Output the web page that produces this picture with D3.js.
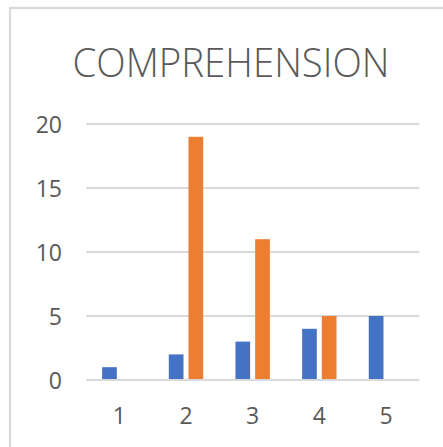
<!DOCTYPE html>
<html><head><meta charset="utf-8">
<script src="https://cdn.jsdelivr.net/npm/d3@7/dist/d3.min.js"></script>
<style>html,body{margin:0;padding:0;background:#fff;overflow:hidden}</style>
</head><body>
<svg id="c" width="443" height="447"></svg>
<script>
const categories = ["1", "2", "3", "4", "5"];
const seriesNames = ["A", "B"];
const seriesA = [1, 2, 3, 4, 5];
const seriesB = [0, 19, 11, 5, 0];
const yTicks = [0, 5, 10, 15, 20];
const title = "COMPREHENSION";
const colors = ["#4472C4", "#ED7D31"];

const svg = d3.select("#c");
const font = "'Open Sans', 'Noto Sans', sans-serif";
const textColor = "#595959";

// chart border
svg.append("rect").attr("x", 10).attr("y", 8).attr("width", 460).attr("height", 460)
  .attr("fill", "none").attr("stroke", "#d9d9d9").attr("stroke-width", 2.2);

const x = d3.scaleBand().domain(categories).range([86, 419.3]).padding(0);
const groupW = x.bandwidth() * 0.516;
const xi = d3.scaleBand().domain(seriesNames).range([0, groupW]).paddingInner(0.254).paddingOuter(0);
const y = d3.scaleLinear().domain([0, 20]).range([380, 124]);

// title
svg.append("text").attr("x", 231).attr("y", 77).attr("text-anchor", "middle")
  .attr("font-family", font).attr("font-size", 41).attr("font-weight", 300).attr("fill", textColor)
  .attr("textLength", 317).attr("lengthAdjust", "spacingAndGlyphs")
  .text(title);

// gridlines
svg.append("g").selectAll("line").data(yTicks).join("line")
  .attr("x1", 86).attr("x2", 419.3)
  .attr("y1", d => y(d)).attr("y2", d => y(d))
  .attr("stroke", "#d9d9d9").attr("stroke-width", 2);

// y axis labels
const yAxis = d3.axisLeft(y).tickValues(yTicks).tickSize(0).tickPadding(0);
const gy = svg.append("g").attr("transform", "translate(62,0)").call(yAxis);
gy.select(".domain").remove();
gy.selectAll("text").attr("font-family", font).attr("font-size", 23).attr("fill", textColor).attr("dy", "0.35em");

// x axis labels
const xAxis = d3.axisBottom(x).tickSize(0).tickPadding(0);
const gx = svg.append("g").attr("transform", "translate(0,424)").call(xAxis);
gx.select(".domain").remove();
gx.selectAll("text").attr("font-family", font).attr("font-size", 23).attr("fill", textColor).attr("dy", 0);

// bars
const rows = categories.map((c, i) => ({c, vals: [seriesA[i], seriesB[i]]}));
const groups = svg.append("g").selectAll("g").data(rows).join("g")
  .attr("transform", d => `translate(${x(d.c) + (x.bandwidth() - groupW) / 2},0)`);
groups.selectAll("rect").data(d => d.vals.map((v, j) => ({s: seriesNames[j], v, j}))).join("rect")
  .attr("x", d => xi(d.s)).attr("width", xi.bandwidth())
  .attr("y", d => y(d.v)).attr("height", d => y(0) - 1 - y(d.v) > 0 ? y(0) - 1 - y(d.v) : 0)
  .attr("fill", d => colors[d.j]);
</script>
</body></html>
